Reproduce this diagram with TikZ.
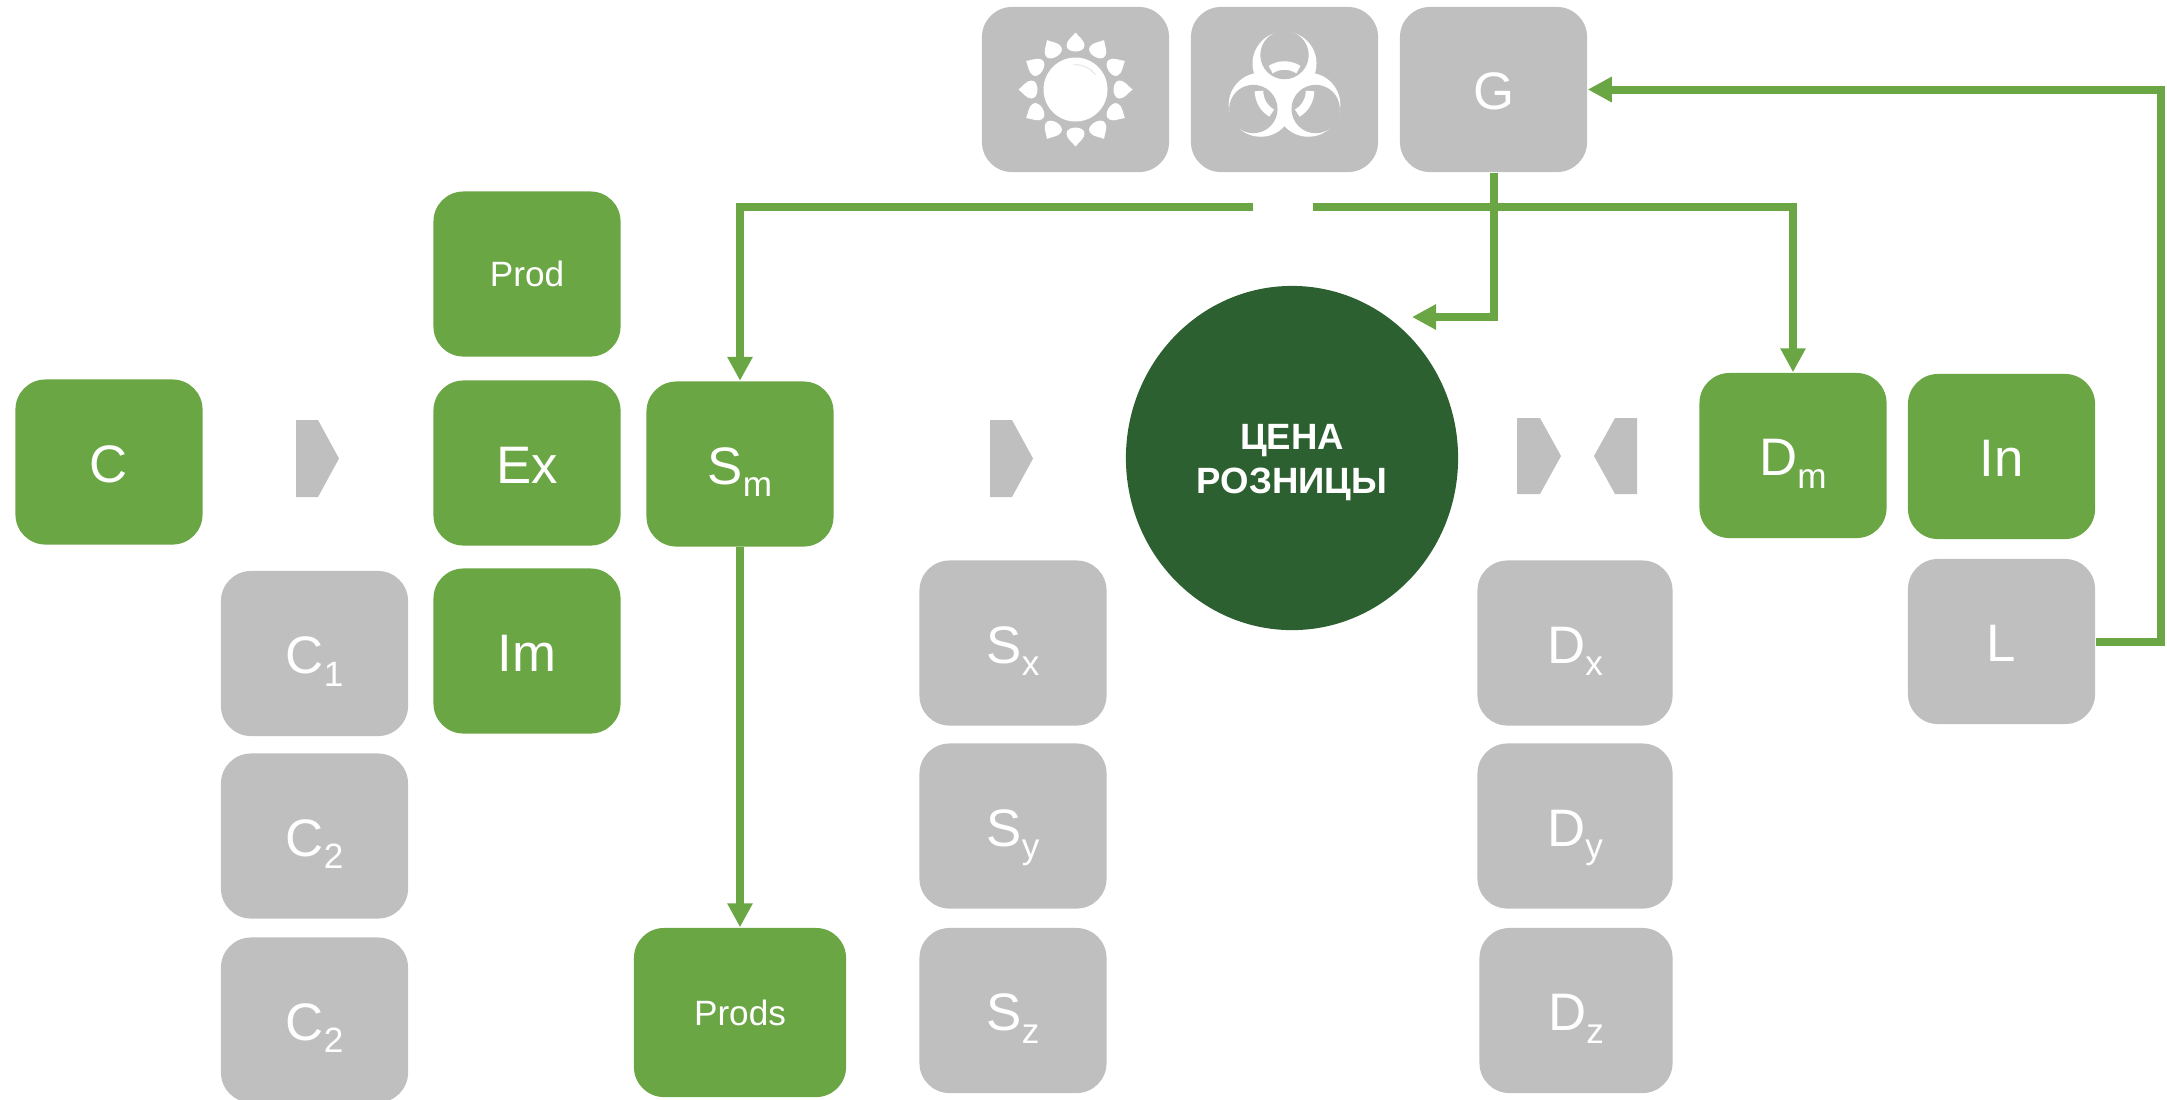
\documentclass[tikz,border=0pt]{standalone}
\usepackage{fontspec}
\setmainfont{Liberation Sans}
\usetikzlibrary{shapes.geometric,arrows.meta}
\definecolor{leafgreen}{RGB}{107,166,69}
\definecolor{tilegray}{RGB}{191,191,191}
\definecolor{pricegreen}{RGB}{44,96,48}
\newcommand{\subtext}[2]{#1\raisebox{-3.6pt}{\fontsize{10}{12}\selectfont #2}}
\newcommand{\sunpetal}[1]{\fill [white, rotate=#1] (0,57) .. controls (4,52) and (9,49) .. (9,44) .. controls (9,36) and (-9,36) .. (-9,44) .. controls (-9,49) and (-4,52) .. (0,57) -- cycle;}
\tikzset{
  tile/.style={rounded corners=.3cm, minimum width=1.87cm, minimum height=1.65cm, inner sep=0pt, text=white, font=\fontsize{15}{18}\selectfont, text height=11.4pt, text depth=0pt},
  greentile/.style={tile, fill=leafgreen},
  graytile/.style={tile, fill=tilegray},
  smalltext/.style={font=\fontsize{10}{12}\selectfont, text height=7.2pt},
  chevron/.style={fill=tilegray},
  link/.style={draw=leafgreen, line width=.08cm, -{Triangle[length=.24cm,width=.24cm]}}
}
\begin{document}
\begin{tikzpicture}[x=.01cm,y=-.01cm]
     \useasboundingbox (0,0) rectangle (2167,1099);

     \node [greentile] (c) at (109,462) {C};
     \node [graytile] (cone) at (314.5,653.5) {\subtext{C}{1}};
     \node [graytile] (ctwo) at (314.5,836) {\subtext{C}{2}};
     \node [graytile] (cthree) at (314.5,1020) {\subtext{C}{2}};

     \node [greentile, smalltext] (prod) at (527,274) {Prod};
     \node [greentile] (ex) at (527,463) {Ex};
     \node [greentile] (im) at (527,651) {Im};

     \node [greentile] (sm) at (740,464) {\subtext{S}{m}};
     \node [greentile, smalltext, minimum width=2.12cm, minimum height=1.69cm] (prods) at (740,1012.5) {Prods};

     \node [graytile] (sx) at (1013,643) {\subtext{S}{x}};
     \node [graytile] (sy) at (1013,826) {\subtext{S}{y}};
     \node [graytile] (sz) at (1013,1010.5) {\subtext{S}{z}};

     \node [ellipse, fill=pricegreen, minimum width=3.32cm, minimum height=3.44cm, inner sep=0pt, text=white, align=center, font=\fontsize{10.4}{12.6}\selectfont\bfseries] (price) at (1292,458) {\rule{0pt}{9.9pt}ЦЕНА\\РОЗНИЦЫ};

     \node [graytile, minimum width=1.95cm] (dx) at (1575,643) {\subtext{D}{x}};
     \node [graytile, minimum width=1.95cm] (dy) at (1575,826) {\subtext{D}{y}};
     \node [graytile, minimum width=1.93cm] (dz) at (1576,1010.5) {\subtext{D}{z}};

     \node [greentile] (dm) at (1793,455.5) {\subtext{D}{m}};
     \node [greentile] (in) at (2001.5,456.5) {In};
     \node [graytile] (l) at (2001.5,641.5) {L};

     \node [graytile] (sunbox) at (1075.5,89.5) {};
     \node [graytile] (biobox) at (1284.5,89.5) {};
     \node [graytile] (g) at (1493.5,89.5) {G};

     \fill [chevron] (296,420) -- (318,420) -- (339,458.5) -- (318,497) -- (296,497) -- cycle;
     \fill [chevron] (990,420) -- (1012,420) -- (1033,458.5) -- (1012,497) -- (990,497) -- cycle;
     \fill [chevron] (1517,418) -- (1540,418) -- (1561,456) -- (1540,494) -- (1517,494) -- cycle;
     \fill [chevron] (1637,418) -- (1615,418) -- (1594,456) -- (1615,494) -- (1637,494) -- cycle;

     \begin{scope}[shift={(sunbox.center)},x=.01cm,y=.01cm]
       \fill [white] (0,0) circle [radius=32];
       \draw [tilegray!35, line width=.012cm] (-2,25) .. controls (8,25) and (15,21) .. (20,15);
       \sunpetal{0} \sunpetal{30} \sunpetal{60} \sunpetal{90}
       \sunpetal{120} \sunpetal{150} \sunpetal{180} \sunpetal{210}
       \sunpetal{240} \sunpetal{270} \sunpetal{300} \sunpetal{330}
     \end{scope}

     \begin{scope}[shift={(biobox.center)},shift={(0,1.5)},x=.01cm,y=.01cm]
       \fill [white] (90:27.5) circle [radius=32];
       \fill [white] (210:27.5) circle [radius=32];
       \fill [white] (330:27.5) circle [radius=32];
       \fill [tilegray] (90:36) circle [radius=24.2];
       \fill [tilegray] (210:36) circle [radius=24.2];
       \fill [tilegray] (330:36) circle [radius=24.2];
       \draw [white, line width=.085cm] (57:25.5) arc [start angle=57, end angle=123, radius=25.5];
       \draw [white, line width=.085cm] (180:25.5) arc [start angle=180, end angle=240, radius=25.5];
       \draw [white, line width=.085cm] (300:25.5) arc [start angle=300, end angle=360, radius=25.5];
     \end{scope}

     \coordinate (busleft) at (1253,207);
     \coordinate (busright) at (1313,207);
     \coordinate (pricein) at (1412,317);
     \coordinate (railtop) at (2160.5,89.5);

     \draw [link] (busleft) -| (sm.north);
     \draw [link] (busright) -| (dm.north);
     \draw [link] (g.south) |- (pricein);
     \draw [link] (sm.south) -- (prods.north);
     \draw [link] (l.east) -| (railtop) -- (g.east);
\end{tikzpicture}
\end{document}
